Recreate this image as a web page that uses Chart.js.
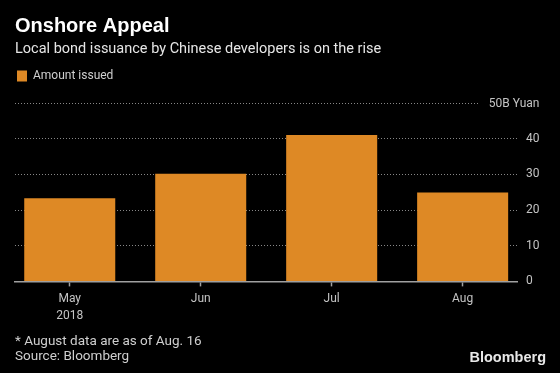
<!DOCTYPE html>
<html lang="en">
<head>
<meta charset="UTF-8">
<title>Onshore Appeal</title>
<script src="https://cdn.jsdelivr.net/npm/chart.js@4.4.0/dist/chart.umd.min.js"></script>
<style>
    html, body {margin: 0; padding: 0; background: #000;}
    #wrap {width: 560px; height: 373px; position: relative;}
</style>
</head>
<body>
<div id="wrap"><canvas id="barChart"></canvas></div>
<script>
const months = ['May', 'Jun', 'Jul', 'Aug'];
const years = ['2018', '', '', ''];
const amounts = [23.3, 30.2, 41.0, 24.9];
const yMax = 50;
const yStep = 10;
const yUnit = '50B Yuan';
const footnote = '* August data are as of Aug. 16';
const source = 'Source: Bloomberg';

const FONT = 'Roboto, "Liberation Sans", sans-serif';
const barColor = '#de8925';
const gridColor = 'rgba(150,150,150,0.9)';
const axisColor = '#a0a0a0';
const labelColor = '#c4c4c4';

Chart.defaults.font.family = FONT;
Chart.defaults.color = labelColor;

// extra room under the legend, chart.js has no option for it
const legendGap = {
    id: 'legendGap',
    beforeLayout(chart) {
        const lg = chart.legend;
        if (!lg || lg._gapPatched) return;
        const fit = lg.fit;
        lg.fit = function () {
            fit.call(this);
            this.height += 11;
        };
        lg._gapPatched = true;
    }
};

// unit label on the top gridline + footnotes
const extras = {
    id: 'extras',
    afterDraw(chart) {
        const {ctx, chartArea, scales: {y}} = chart;
        const yTop = Math.round(y.getPixelForValue(yMax)) + 0.5;
        ctx.save();
        ctx.font = '12px ' + FONT;
        const right = y.left + y.options.ticks.padding + ctx.measureText('40').width;
        const textLeft = right - ctx.measureText(yUnit).width;
        ctx.fillStyle = labelColor;
        ctx.textAlign = 'right';
        ctx.textBaseline = 'middle';
        ctx.fillText(yUnit, right, yTop);

        ctx.strokeStyle = gridColor;
        ctx.lineWidth = 1;
        ctx.setLineDash([1, 2]);
        ctx.beginPath();
        ctx.moveTo(chartArea.left, yTop);
        ctx.lineTo(textLeft - 10, yTop);
        ctx.stroke();
        ctx.setLineDash([]);

        ctx.textAlign = 'left';
        ctx.font = '13.5px ' + FONT;
        ctx.fillStyle = '#cfcfcf';
        ctx.fillText(footnote, 15, 342);
        ctx.fillText(source, 15, 357);

        ctx.textAlign = 'right';
        ctx.font = 'bold 14.5px "Liberation Sans", sans-serif';
        ctx.fillStyle = '#e8e8e8';
        ctx.fillText('Bloomberg', 546, 358);
        ctx.restore();
    }
};

const ctx = document.getElementById('barChart').getContext('2d');
new Chart(ctx, {
    type: 'bar',
    data: {
        datasets: [{
            label: 'Amount issued',
            data: months.map((m, i) => ({x: i, y: amounts[i]})),
            backgroundColor: barColor,
            borderWidth: 0,
            categoryPercentage: 1,
            barPercentage: 0.695
        }]
    },
    options: {
        responsive: true,
        maintainAspectRatio: false,
        animation: false,
        layout: {padding: {left: 15, right: 0, top: 0, bottom: 45}},
        plugins: {
            title: {
                display: true,
                text: 'Onshore Appeal',
                align: 'start',
                color: '#ffffff',
                font: {family: '"Liberation Sans", sans-serif', size: 20, weight: 'bold'},
                padding: {top: 14, bottom: 0}
            },
            subtitle: {
                display: true,
                text: 'Local bond issuance by Chinese developers is on the rise',
                align: 'start',
                color: '#e6e6e6',
                font: {size: 14.5},
                padding: {top: 3, bottom: 9.6}
            },
            legend: {
                display: true,
                align: 'start',
                labels: {boxWidth: 10, boxHeight: 11, padding: 2, color: '#cfcfcf', font: {size: 12}}
            },
            tooltip: {enabled: false}
        },
        scales: {
            x: {
                type: 'linear',
                bounds: 'data',
                offset: false,
                min: -0.418,
                max: 3.415,
                afterBuildTicks: (s) => { s.ticks = months.map((m, i) => ({value: i})); },
                grid: {
                    display: true,
                    offset: false,
                    drawOnChartArea: false,
                    drawTicks: true,
                    tickLength: 5,
                    tickWidth: 1.5,
                    tickColor: axisColor,
                    color: 'transparent'
                },
                border: {display: true, color: axisColor, width: 1.5},
                ticks: {
                    autoSkip: false,
                    maxRotation: 0,
                    padding: 4,
                    color: labelColor,
                    font: {size: 12, lineHeight: 1.4},
                    callback: (v) => years[v] ? [months[v], years[v]] : months[v]
                }
            },
            y: {
                position: 'right',
                min: 0,
                max: yMax,
                afterFit: (s) => { s.width = 43; },
                ticks: {
                    stepSize: yStep,
                    padding: 9,
                    color: labelColor,
                    font: {size: 12},
                    callback: (v) => v === yMax ? '' : v
                },
                grid: {
                    drawTicks: false,
                    lineWidth: 1,
                    color: (c) => (c.tick && (c.tick.value === 0 || c.tick.value === yMax)) ? 'transparent' : gridColor
                },
                border: {display: false, dash: [1, 2]}
            }
        }
    },
    plugins: [legendGap, extras]
});
</script>
</body>
</html>
